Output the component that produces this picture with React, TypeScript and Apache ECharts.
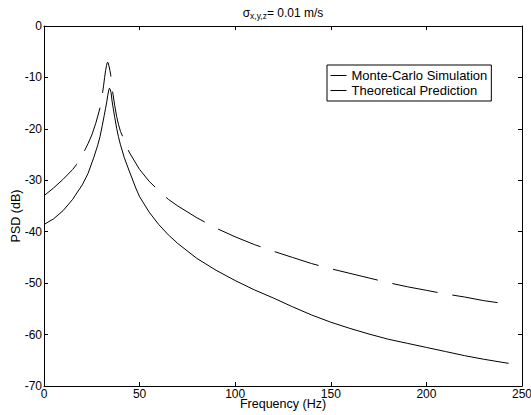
import React, { useEffect, useRef } from "react";
import * as echarts from "echarts";

const FONT = "'Liberation Sans', Arial, Helvetica, sans-serif";

// Monte-Carlo Simulation (solid)
const freqMC = [0, 5, 10, 15, 20, 23, 26, 28, 29.3, 30.5, 31.5, 32.2, 32.8, 33.3, 33.8, 34.2, 34.6, 35.1, 35.6, 36.2, 37, 38, 38.9, 40, 42, 45, 48, 50, 55, 60, 65, 70, 80, 90, 100, 110, 120, 130, 140, 150, 160, 170, 180, 190, 200, 210, 220, 230, 243];
const psdMC = [-38.6, -37.5, -35.9, -33.7, -30.9, -28.7, -25.6, -23.3, -21.5, -19.3, -17.4, -16.0, -14.8, -13.6, -12.6, -12.1, -12.3, -13.0, -14.6, -16.0, -17.8, -19.9, -21.5, -23.1, -25.6, -28.6, -31.5, -33.2, -36.2, -38.6, -40.6, -42.3, -45.2, -47.5, -49.5, -51.3, -52.9, -54.6, -56.2, -57.6, -58.8, -59.9, -60.9, -61.7, -62.5, -63.3, -64.1, -64.8, -65.6];

// Theoretical Prediction (dashed)
const freqTh = [0, 5, 10, 15, 17.1, 20, 21.4, 23, 25, 27, 28, 29.3, 30, 30.7, 31.2, 31.7, 32.2, 32.7, 33.0, 33.3, 33.6, 34.0, 34.5, 34.9, 35.4, 35.9, 37, 38, 39, 40, 41.3, 43, 44.5, 50, 55, 60, 65, 70, 80, 90, 100, 110, 120, 130, 140, 150, 160, 170, 180, 190, 200, 210, 220, 230, 243];
const psdTh = [-33.0, -31.5, -29.8, -27.9, -26.9, -25.0, -24.1, -22.9, -21.2, -19.0, -17.7, -15.9, -14.4, -12.8, -11.5, -10.0, -8.7, -7.7, -7.2, -7.05, -7.2, -7.8, -8.7, -9.5, -11.2, -12.8, -15.5, -17.6, -19.2, -20.5, -21.6, -23.2, -24.5, -27.9, -30.2, -32.0, -33.7, -35.0, -37.3, -39.3, -41.0, -42.5, -43.8, -45.0, -46.2, -47.2, -48.1, -49.0, -49.9, -50.7, -51.4, -52.1, -52.7, -53.4, -54.1];

const seriesNames = ["Monte-Carlo Simulation", "Theoretical Prediction"];
const xTicks = { min: 0, max: 250, interval: 50 };
const yTicks = { min: -70, max: 0, interval: 10 };

const pairs = (xs: number[], ys: number[]) => xs.map((x, i) => [x, ys[i]]);

export default function App() {
  const ref = useRef<HTMLDivElement>(null);
  useEffect(() => {
    if (!ref.current) return;
    const chart = echarts.init(ref.current, undefined, { renderer: "svg" });
    const axisLine = { show: true, onZero: false, lineStyle: { color: "#000", width: 1 } };
    const axisTick = { show: true, inside: true, length: 4, lineStyle: { color: "#000", width: 1 } };
    const labelStyle = {
      color: "#000", fontSize: 12, fontFamily: FONT,
      alignMinLabel: "center", alignMaxLabel: "center", hideOverlap: false,
    };
    chart.setOption({
      animation: false,
      backgroundColor: "#fff",
      grid: { left: 44, right: 9, top: 26, bottom: 29, containLabel: false, outerBoundsMode: "none" },
      xAxis: [
        {
          type: "value", ...xTicks, position: "bottom",
          axisLine, axisTick, splitLine: { show: false },
          axisLabel: { ...labelStyle, margin: 1.5 },
          name: "Frequency (Hz)", nameLocation: "middle", nameGap: 11.5,
          nameMoveOverlap: false,
          nameTextStyle: { color: "#000", fontSize: 12.5, fontFamily: FONT, verticalAlign: "top" },
        },
        {
          type: "value", ...xTicks, position: "top",
          axisLine, axisTick, splitLine: { show: false }, axisLabel: { show: false },
        },
      ],
      yAxis: [
        {
          type: "value", ...yTicks, position: "left",
          axisLine, axisTick, splitLine: { show: false },
          axisLabel: { color: "#000", fontSize: 12, fontFamily: FONT, margin: 2 },
        },
        {
          type: "value", ...yTicks, position: "right",
          axisLine, axisTick, splitLine: { show: false }, axisLabel: { show: false },
        },
      ],
      legend: {
        orient: "vertical", left: 327, top: 65,
        padding: [4, 4, 4, 3], itemGap: 2, itemWidth: 16, itemHeight: 14,
        borderColor: "#000", borderWidth: 1, backgroundColor: "#fff",
        textStyle: { color: "#000", fontSize: 13, fontFamily: FONT },
        lineStyle: { type: "solid", width: 1, color: "#000" },
        itemStyle: { opacity: 0 },
        data: seriesNames,
      },
      graphic: [
        {
          type: "text", x: 283, y: 12.5,
          style: {
            text: "{a|σ}{b|x,y,z}{a|= 0.01 m/s}",
            textAlign: "center", textVerticalAlign: "middle",
            fill: "#000",
            rich: {
              a: { fontSize: 12, fontFamily: FONT, lineHeight: 16, fill: "#000", color: "#000" },
              b: { fontSize: 8.5, fontFamily: FONT, lineHeight: 8, verticalAlign: "bottom", fill: "#000", color: "#000" },
            },
          },
        },
        {
          type: "text", x: 16, y: 216, rotation: Math.PI / 2,
          style: {
            text: "PSD (dB)", textAlign: "center", textVerticalAlign: "middle",
            fill: "#000", font: `12.5px ${FONT}`,
          },
        },
      ],
      series: [
        {
          name: seriesNames[0], type: "line", data: pairs(freqMC, psdMC),
          symbol: "none", silent: true,
          lineStyle: { color: "#000", width: 1, type: "solid" },
          itemStyle: { color: "#000" },
        },
        {
          name: seriesNames[1], type: "line", data: pairs(freqTh, psdTh),
          symbol: "none", silent: true,
          lineStyle: { color: "#000", width: 1, type: [46, 15] },
          itemStyle: { color: "#000" },
        },
      ],
    });
    return () => chart.dispose();
  }, []);
  return (
    <div
      ref={ref}
      style={{ position: "fixed", left: 0, top: 0, width: 531, height: 415, background: "#fff" }}
    />
  );
}
